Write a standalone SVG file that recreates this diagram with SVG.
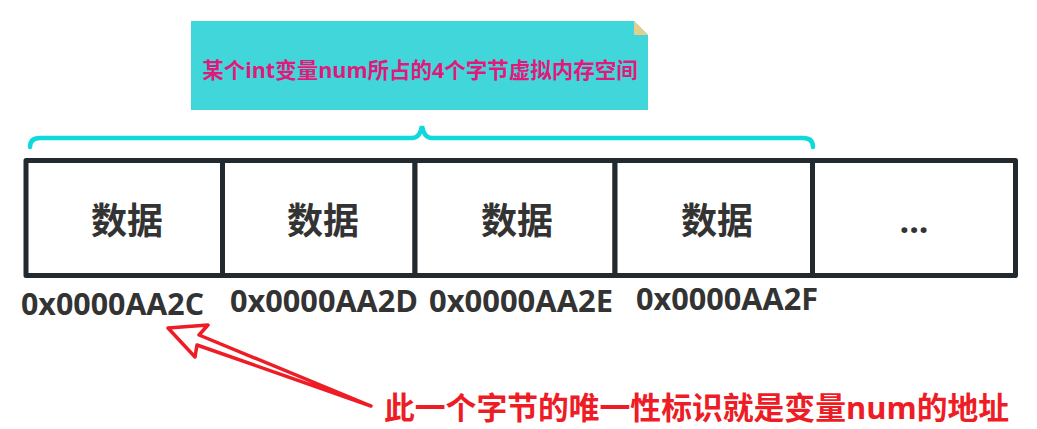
<svg xmlns="http://www.w3.org/2000/svg" width="1037" height="429" viewBox="0 0 1037 429">
  <style>
    .cell { fill: #ffffff; stroke: #222a30; stroke-width: 5; stroke-linejoin: round; }
    .data { font-family: "Noto Sans CJK SC", sans-serif; font-weight: bold; font-size: 36px; fill: #333333; text-anchor: middle; }
    .addr { font-family: "Open Sans", "Noto Sans CJK SC", sans-serif; font-weight: bold; font-size: 30px; fill: #333333; }
    .note { font-family: "Open Sans", "Noto Sans CJK SC", sans-serif; font-weight: bold; font-size: 21.5px; fill: #e0197a; text-anchor: middle; }
    .red { font-family: "Open Sans", "Noto Sans CJK SC", sans-serif; font-weight: bold; font-size: 30.8px; fill: #ee1c25; }
  </style>
  <rect width="1037" height="429" fill="#ffffff"/>

  <g id="note">
    <polygon points="191,21 634,21 648,35 648,110 191,110" fill="#41d6da"/>
    <polygon points="634,21 634,35 648,35" fill="#e3cf8b"/>
    <text class="note" x="420" y="78">某个int变量num所占的4个字节虚拟内存空间</text>
  </g>

  <g id="brace">
    <path d="M30,147 Q30,138 40,138 L412,138 Q420,138 422,126 Q424,138 432,138 L803,138 Q813,138 813,147" fill="none" stroke="#0fd9dd" stroke-width="4.5" stroke-linecap="round"/>
  </g>

  <g id="cell1">
    <rect class="cell" x="26" y="160.5" width="196.5" height="115"/>
    <text class="data" x="127" y="234">数据</text>
  </g>
  <g id="cell2">
    <rect class="cell" x="222.5" y="160.5" width="192.5" height="115"/>
    <text class="data" x="323" y="234">数据</text>
  </g>
  <g id="cell3">
    <rect class="cell" x="415" y="160.5" width="200" height="115"/>
    <text class="data" x="517" y="234">数据</text>
  </g>
  <g id="cell4">
    <rect class="cell" x="615" y="160.5" width="197.5" height="115"/>
    <text class="data" x="717" y="234">数据</text>
  </g>
  <g id="cell5">
    <rect class="cell" x="812.5" y="160.5" width="203" height="115"/>
    <text class="data" x="914" y="233" style="font-family:'Open Sans',sans-serif;font-size:34px">...</text>
  </g>

  <g id="addresses">
    <text class="addr" x="21" y="315" textLength="183" lengthAdjust="spacingAndGlyphs">0x0000AA2C</text>
    <text class="addr" x="230" y="312" textLength="188" lengthAdjust="spacingAndGlyphs">0x0000AA2D</text>
    <text class="addr" x="429" y="312" textLength="184" lengthAdjust="spacingAndGlyphs">0x0000AA2E</text>
    <text class="addr" x="636" y="310" textLength="182" lengthAdjust="spacingAndGlyphs">0x0000AA2F</text>
  </g>

  <g id="connectors">
    <polygon points="371,406 199,335 208,325 168,328 195,357 197,345" fill="#ffffff" stroke="#ee1c25" stroke-width="3.5" stroke-linejoin="round"/>
  </g>

  <g id="label">
    <text class="red" x="384" y="419">此一个字节的唯一性标识就是变量num的地址</text>
  </g>
</svg>
